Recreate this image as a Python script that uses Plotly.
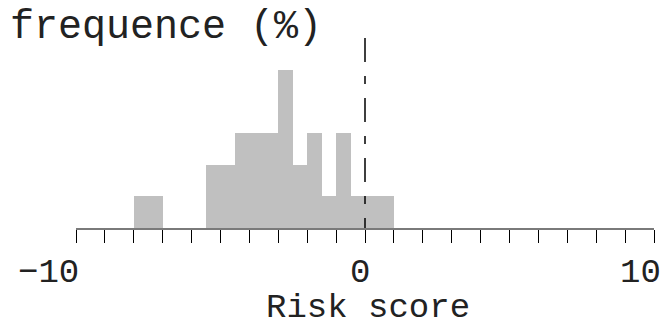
import plotly.graph_objects as go

# Histogram of the risk score: left edges of 0.5-wide bins and frequency in %
bin_left = [-8.0, -7.5, -7.0, -6.5, -6.0, -5.5, -5.0, -4.5, -4.0,
            -3.5, -3.0, -2.5, -2.0, -1.5, -1.0, -0.5, 0.0, 0.5]
freq_pct = [3.125, 3.125, 0.0, 0.0, 0.0, 6.25, 6.25, 9.375, 9.375,
            9.375, 15.625, 6.25, 9.375, 3.125, 9.375, 3.125, 3.125, 3.125]
bin_width = 0.5

# Cut-off value marked by the dashed line
cutoff = [0.0, 0.0]
cutoff_y = [18.75, 0.0]

x_range = [-10, 10]
y_range = [0, 18.75]
tick_vals = list(range(-10, 11))
label_vals = [-10, 0, 10]
label_text = ["\u221210", "0", "10"]
x_title = "Risk score"
y_title = "frequence (%)"

FONT = "Liberation Mono"
TXT = "#222222"

fig = go.Figure()

fig.add_trace(go.Bar(
    x=bin_left,
    y=freq_pct,
    width=bin_width,
    offset=0,
    marker=dict(color="#c0c0c0", line=dict(width=0)),
    hoverinfo="skip",
    showlegend=False,
))

fig.add_trace(go.Scatter(
    x=cutoff,
    y=cutoff_y,
    mode="lines",
    line=dict(color="black", width=1.5, dash="24px,14px,8px,14px"),
    hoverinfo="skip",
    showlegend=False,
))

# Tick labels at the ends and at zero
anchors = ["right", "center", "right"]
shifts = [4, -5, 8]
for v, t, a, s in zip(label_vals, label_text, anchors, shifts):
    fig.add_annotation(
        x=v, y=0, xref="x", yref="paper",
        text=t, showarrow=False,
        xanchor=a, yanchor="top", xshift=s, yshift=-25,
        borderpad=0,
        font=dict(family=FONT, size=34, color=TXT),
    )

# Axis title at the foot of the figure
fig.add_annotation(
    x=0.5, y=0, xref="paper", yref="paper",
    text=x_title, showarrow=False,
    xanchor="center", yanchor="bottom", xshift=3, yshift=-100,
    borderpad=0,
    font=dict(family=FONT, size=34, color=TXT),
)

fig.update_layout(
    width=663,
    height=328,
    margin=dict(l=76, r=9, t=38, b=100, pad=0, autoexpand=False),
    paper_bgcolor="white",
    plot_bgcolor="white",
    bargap=0,
    title=dict(
        text=y_title,
        font=dict(family=FONT, size=40, color=TXT),
        xref="container", yref="container",
        x=10 / 663, xanchor="left",
        y=1 - 10 / 328, yanchor="top",
        pad=dict(t=0, b=0, l=0, r=0),
        automargin=False,
    ),
    xaxis=dict(
        range=x_range,
        tickvals=tick_vals,
        ticks="outside",
        ticklen=13,
        tickwidth=1,
        tickcolor="black",
        showticklabels=False,
        showline=True,
        linecolor="#7a7a7a",
        linewidth=1.5,
        showgrid=False,
        zeroline=False,
        fixedrange=True,
        automargin=False,
    ),
    yaxis=dict(
        range=y_range,
        visible=False,
        fixedrange=True,
    ),
)

fig.write_html("out.html")
